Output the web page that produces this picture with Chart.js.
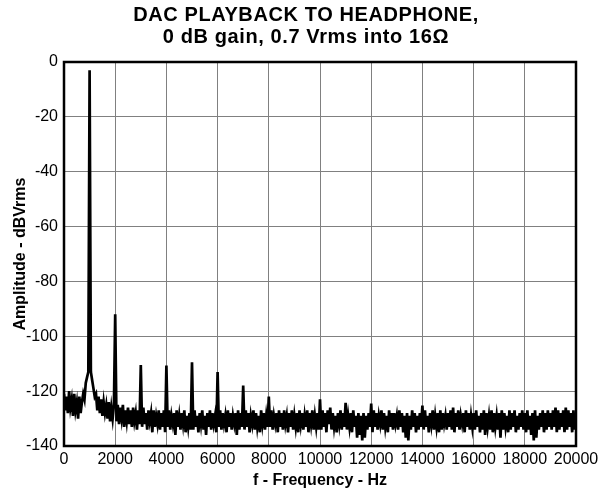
<!DOCTYPE html>
<html>
<head>
<meta charset="utf-8">
<title>DAC playback to headphone</title>
<script src="https://cdn.jsdelivr.net/npm/chart.js@4/dist/chart.umd.min.js"></script>
<style>
    html, body { margin: 0; padding: 0; background: #fff; }
    canvas { display: block; }
</style>
</head>
<body>
<canvas id="chart" width="612" height="490"></canvas>
<script>
"use strict";

/**----------------------------------------------------------------------
 * [Chart data]
 *--------------------------------------------------------------*/
const titleLines = ['DAC PLAYBACK TO HEADPHONE,', '0 dB gain, 0.7 Vrms into 16\u03A9'];

// spacing of the noise floor readings, Hz
const binHz = 50;

// noise floor in dBVrms, one reading every 50 Hz from 0 to 20000 Hz
const noiseFloor = [
    -121, -127, -122, -128, -120, -126, -123, -129, -121, -127, -124, -130, -122, -128, -124, -121, -123, -117, -115, -113,
    -112, -113, -116, -119, -122, -121, -127, -122, -128, -123, -129, -124, -128, -125, -130, -124, -131, -126, -130, -125,
    -126, -131, -125, -132, -126, -130, -125, -133, -127, -131, -126, -132, -127, -133, -126, -131, -128, -134, -127, -132,
    -127, -133, -126, -132, -128, -134, -127, -131, -128, -135, -127, -133, -129, -132, -127, -134, -128, -133, -127, -135,
    -128, -133, -127, -134, -129, -132, -128, -136, -127, -133, -129, -134, -128, -132, -127, -135, -129, -133, -128, -134,
    -128, -134, -127, -133, -129, -135, -128, -132, -127, -134, -129, -136, -128, -133, -127, -134, -128, -132, -129, -135,
    -128, -133, -127, -134, -128, -132, -129, -135, -127, -133, -128, -134, -129, -132, -128, -136, -127, -134, -128, -133,
    -128, -134, -127, -133, -128, -135, -129, -132, -127, -134, -128, -133, -129, -135, -127, -132, -128, -134, -129, -133,
    -128, -133, -127, -134, -129, -132, -128, -135, -127, -133, -128, -134, -127, -132, -129, -135, -128, -133, -127, -134,
    -129, -133, -128, -135, -127, -132, -128, -134, -129, -133, -127, -135, -128, -132, -127, -134, -129, -133, -128, -134,
    -128, -134, -127, -133, -128, -135, -127, -132, -126, -134, -128, -133, -129, -135, -128, -132, -127, -134, -128, -133,
    -128, -134, -129, -133, -128, -135, -127, -133, -129, -137, -128, -136, -129, -138, -128, -137, -129, -134, -128, -133,
    -128, -135, -127, -133, -128, -134, -129, -132, -127, -134, -128, -133, -129, -135, -127, -133, -128, -134, -128, -132,
    -129, -134, -127, -133, -128, -135, -129, -137, -128, -138, -129, -134, -127, -133, -128, -135, -129, -134, -128, -133,
    -128, -134, -127, -133, -129, -135, -128, -132, -127, -134, -129, -133, -128, -135, -127, -134, -128, -132, -129, -134,
    -128, -133, -127, -134, -126, -135, -128, -133, -127, -134, -129, -132, -128, -135, -127, -133, -128, -134, -129, -133,
    -128, -134, -127, -133, -129, -135, -128, -134, -127, -136, -128, -133, -129, -134, -127, -135, -128, -133, -129, -134,
    -128, -137, -127, -134, -128, -133, -129, -135, -127, -134, -128, -133, -127, -135, -129, -134, -128, -133, -127, -134,
    -128, -135, -127, -134, -129, -136, -128, -138, -127, -137, -129, -134, -128, -133, -127, -135, -128, -134, -127, -133,
    -128, -134, -127, -133, -126, -135, -127, -134, -128, -133, -127, -135, -126, -134, -127, -133, -128, -135, -127, -134,
    -128
];

// fundamental and the spurs standing out of the floor
const harmonicFreqs  = [1000, 2000, 3000, 4000, 5000, 6000, 7000, 8000, 10000, 11000, 12000, 14000];
const harmonicLevels = [-3, -92, -110.5, -110.7, -109.5, -113, -118, -122, -123, -124.3, -124.5, -125.3];

const xTicks = [0, 2000, 4000, 6000, 8000, 10000, 12000, 14000, 16000, 18000, 20000];
const yTicks = [0, -20, -40, -60, -80, -100, -120, -140];

/**----------------------------------------------------------------------
 * [Merge floor and harmonics into one trace]
 *--------------------------------------------------------------*/
const spectrum = noiseFloor.map(function(level, i) {
    const f = i * binHz;
    const h = harmonicFreqs.indexOf(f);
    return { x: f, y: h >= 0 ? harmonicLevels[h] : level };
});

const fontFamily = '"Liberation Sans", Arial, Helvetica, sans-serif';

/**----------------------------------------------------------------------
 * [Two line bold title centred on the canvas]
 *--------------------------------------------------------------*/
const titlePlugin = {
    id: 'plotTitle',
    afterDraw(chart) {
        const ctx = chart.ctx;
        ctx.save();
        ctx.font = 'bold 20px ' + fontFamily;
        ctx.fillStyle = '#000';
        ctx.textAlign = 'center';
        ctx.textBaseline = 'alphabetic';
        if ('letterSpacing' in ctx) ctx.letterSpacing = '0.6px';
        titleLines.forEach(function(line, i) {
            ctx.fillText(line, chart.width / 2, 21 + i * 22);
        });
        ctx.restore();
    }
};

/**----------------------------------------------------------------------
 * [Closed black frame round the plot area]
 *--------------------------------------------------------------*/
const framePlugin = {
    id: 'plotFrame',
    afterDatasetsDraw(chart) {
        const a = chart.chartArea;
        const ctx = chart.ctx;
        ctx.save();
        ctx.strokeStyle = '#000';
        ctx.lineWidth = 2.5;
        ctx.strokeRect(a.left, a.top, a.right - a.left, a.bottom - a.top);
        ctx.restore();
    }
};

new Chart(document.getElementById('chart').getContext('2d'), {
    type: 'line',
    data: {
        datasets: [{
            data: spectrum,
            borderColor: '#000',
            borderWidth: 2.7,
            pointRadius: 0,
            tension: 0,
            fill: false
        }]
    },
    options: {
        responsive: false,
        animation: false,
        layout: {
            padding: { top: 62, right: 36, left: 0, bottom: 0 }
        },
        plugins: {
            legend: { display: false },
            tooltip: { enabled: false },
            title: { display: false }
        },
        scales: {
            x: {
                type: 'linear',
                min: 0,
                max: 20000,
                afterBuildTicks: function(scale) {
                    scale.ticks = xTicks.map(function(v) { return { value: v }; });
                },
                afterFit: function(scale) { scale.height = 44; },
                ticks: {
                    padding: 4,
                    maxRotation: 0,
                    autoSkip: false,
                    color: '#000',
                    font: { family: fontFamily, size: 16 },
                    callback: function(v) { return String(v); }
                },
                grid: { color: '#808080', lineWidth: 1, drawTicks: false },
                border: { display: false },
                title: {
                    display: true,
                    text: 'f - Frequency - Hz',
                    color: '#000',
                    padding: { top: 0, bottom: 0 },
                    font: { family: fontFamily, size: 16, weight: 'bold' }
                }
            },
            y: {
                min: -140,
                max: 0,
                afterBuildTicks: function(scale) {
                    scale.ticks = yTicks.map(function(v) { return { value: v }; });
                },
                afterFit: function(scale) { scale.width = 64; },
                ticks: {
                    padding: 6,
                    color: '#000',
                    font: { family: fontFamily, size: 16 },
                    callback: function(v) { return String(v); }
                },
                grid: { color: '#808080', lineWidth: 1, drawTicks: false },
                border: { display: false },
                title: {
                    display: true,
                    text: 'Amplitude - dBVrms',
                    color: '#000',
                    padding: { top: 11, bottom: 0 },
                    font: { family: fontFamily, size: 16, weight: 'bold' }
                }
            }
        }
    },
    plugins: [titlePlugin, framePlugin]
});
</script>
</body>
</html>
